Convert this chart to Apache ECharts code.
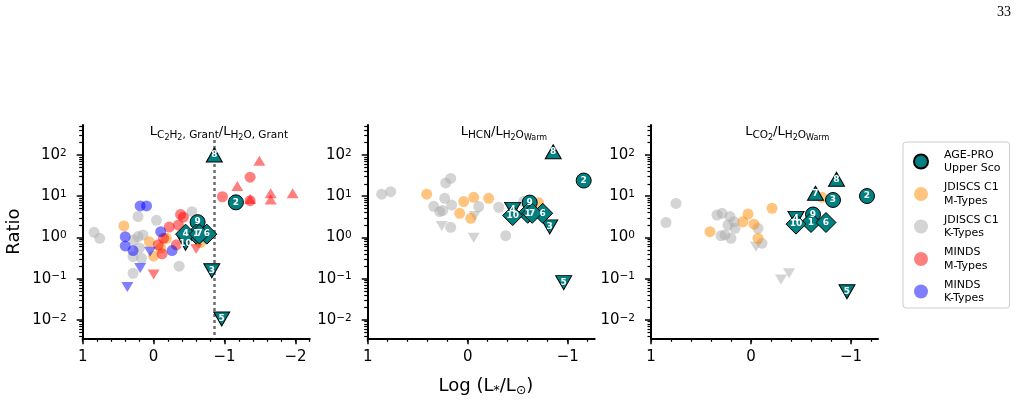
<!DOCTYPE html>
<html>
<head>
<meta charset="utf-8">
<script src="https://cdn.jsdelivr.net/npm/echarts@6/dist/echarts.min.js"></script>
<style>
  html, body { margin: 0; padding: 0; background: #fff; }
  #chart { width: 1026px; height: 404px; }
</style>
</head>
<body>
<div id="chart"></div>
<script>
// flags: det = detection, ul = upper limit, ll = lower limit, tent = tentative
const ageproIds = ['1', '2', '3', '4', '5', '6', '7', '8', '9', '10'];
const ageproLogL = [-0.60, -1.16, -0.82, -0.45, -0.96, -0.75, -0.645, -0.855, -0.62, -0.45];

const c2h2Ratio = [1.2, 7.1, 0.155, 1.2, 0.0105, 1.2, 1.2, 100, 2.35, 0.72];
const c2h2Flag = ['tent', 'det', 'ul', 'tent', 'ul', 'tent', 'tent', 'll', 'det', 'ul'];
const hcnRatio = [3.85, 24, 1.8, 4.8, 0.08, 3.85, 3.85, 120, 7.0, 3.4];
const hcnFlag = ['tent', 'det', 'ul', 'ul', 'ul', 'tent', 'tent', 'll', 'det', 'tent'];
const co2Ratio = [2.3, 10.1, 8.1, 2.9, 0.048, 2.3, 11.8, 25.7, 3.6, 2.1];
const co2Flag = ['tent', 'det', 'det', 'ul', 'ul', 'tent', 'll', 'll', 'det', 'tent'];

// comparison samples: [log L*, ratio, flag]
const c2h2JdiscsK = [[0.84, 1.33, 'det'], [0.76, 0.95, 'det'], [0.22, 3.2, 'det'], [0.22, 1.05, 'det'],
  [0.15, 1.15, 'det'], [0.28, 0.87, 'det'], [0.20, 0.55, 'det'], [0.29, 0.34, 'det'], [0.17, 0.31, 'det'],
  [0.29, 0.135, 'det'], [-0.04, 2.6, 'det'], [-0.54, 4.2, 'det'], [-0.36, 0.2, 'det']];
const c2h2JdiscsM = [[0.42, 1.9, 'det'], [0.06, 0.78, 'det'], [0.0, 0.35, 'det'], [-0.18, 0.95, 'det'],
  [-0.10, 0.55, 'det'], [-0.66, 0.75, 'det']];
const c2h2MindsM = [[-0.42, 3.1, 'det'], [-0.38, 3.6, 'det'], [-0.22, 1.78, 'det'], [-0.14, 0.95, 'det'],
  [-0.065, 0.66, 'det'], [-0.12, 0.40, 'det'], [-0.35, 2.0, 'det'], [-0.32, 0.66, 'det'], [-0.97, 9.7, 'det'],
  [-1.36, 29, 'det'], [-1.36, 7.8, 'det'], [-0.6, 0.52, 'ul'], [0.0, 0.126, 'ul'], [-1.49, 73, 'll'],
  [-1.18, 17.7, 'll'], [-1.36, 8.5, 'll'], [-1.65, 11.8, 'll'], [-1.65, 8.3, 'll'], [-1.96, 11.8, 'll']];
const c2h2MindsK = [[0.19, 5.8, 'det'], [0.10, 5.8, 'det'], [0.40, 1.04, 'det'], [0.40, 0.62, 'det'],
  [0.29, 0.48, 'det'], [-0.10, 1.38, 'det'], [-0.26, 0.48, 'det'], [0.19, 0.18, 'ul'], [0.37, 0.063, 'ul'],
  [0.05, 0.45, 'ul']];

const hcnJdiscsK = [[0.86, 11.2, 'det'], [0.77, 12.9, 'det'], [0.34, 5.7, 'det'], [0.28, 4.2, 'det'],
  [0.23, 8.9, 'det'], [0.22, 21, 'det'], [0.17, 27, 'det'], [0.16, 6.1, 'det'], [0.25, 4.5, 'det'],
  [0.17, 1.76, 'det'], [-0.11, 5.6, 'det'], [-0.31, 5.4, 'det'], [-0.38, 1.1, 'det'], [-0.56, 7.4, 'det'],
  [0.26, 1.9, 'ul'], [-0.06, 0.98, 'ul'], [-0.07, 3.3, 'ul']];
const hcnJdiscsM = [[0.41, 11.2, 'det'], [0.08, 3.85, 'det'], [0.04, 7.4, 'det'], [-0.03, 2.9, 'det'],
  [-0.06, 9.4, 'det'], [-0.21, 8.9, 'det'], [-0.71, 6.9, 'det']];

const co2JdiscsK = [[0.85, 2.3, 'det'], [0.75, 6.7, 'det'], [0.34, 3.5, 'det'], [0.29, 3.85, 'det'],
  [0.21, 3.2, 'det'], [0.17, 2.4, 'det'], [0.23, 2.0, 'det'], [0.16, 1.66, 'det'], [0.26, 1.15, 'det'],
  [0.20, 0.95, 'det'], [0.30, 1.1, 'det'], [-0.07, 1.66, 'det'], [-0.11, 0.72, 'det'],
  [-0.05, 0.59, 'ul'], [-0.30, 0.095, 'ul'], [-0.38, 0.135, 'ul']];
const co2JdiscsM = [[0.41, 1.38, 'det'], [0.08, 2.4, 'det'], [0.03, 3.7, 'det'], [-0.03, 2.1, 'det'],
  [-0.07, 0.95, 'det'], [-0.21, 5.1, 'det'], [-0.71, 9.4, 'det']];

const xTicksWide = [1, 0, -1, -2];
const xTicksNarrow = [1, 0, -1];
const yTicks = [0.01, 0.1, 1, 10, 100];
const dottedLineLogL = -0.85;

const FONT = 'DejaVu Sans';
const AGE = 'AGE-PRO\nUpper Sco';
const JM = 'JDISCS C1\nM-Types';
const JK = 'JDISCS C1\nK-Types';
const MM = 'MINDS\nM-Types';
const MK = 'MINDS\nK-Types';
const colors = {};
colors[AGE] = '#008080';
colors[JM] = '#ff8c00';
colors[JK] = '#a9a9a9';
colors[MM] = '#ff0000';
colors[MK] = '#0000ff';

const yMin = 0.00356, yMax = 535;
const gridLeft = [82.7, 367.7, 651];
const xMins = [-2.2, -1.27, -1.27];

const yMinor = [];
for (let e = -3; e <= 2; e++) {
  for (let m = 2; m <= 9; m++) {
    const v = m * Math.pow(10, e);
    if (v > yMin && v < yMax) yMinor.push(v);
  }
}
function xMinor(min) {
  const out = [];
  for (let k = 10; k >= Math.round(min * 10); k -= 2) out.push(k / 10);
  return out;
}

function symbolFor(flag, big) {
  if (flag === 'det') return { symbol: 'circle', symbolSize: big ? 15 : 11, symbolRotate: 0 };
  if (flag === 'tent') return { symbol: 'diamond', symbolSize: 20, symbolRotate: 0 };
  return {
    symbol: 'triangle',
    symbolSize: big ? [16, 14] : [12, 10],
    symbolRotate: flag === 'ul' ? 180 : 0
  };
}

const order = { det: 0, ll: 1, ul: 2, tent: 3 };

function ageproSeries(i, ratio, flag) {
  const items = ageproIds.map((id, k) => Object.assign({
    name: id, value: [ageproLogL[k], ratio[k]], _o: order[flag[k]] * 100 + k
  }, symbolFor(flag[k], true)));
  items.sort((a, b) => a._o - b._o);
  items.forEach(d => delete d._o);
  return {
    type: 'scatter', name: AGE, xAxisIndex: i * 2, yAxisIndex: i * 2, z: 5,
    itemStyle: { color: colors[AGE], borderColor: '#000', borderWidth: 1, opacity: 1 },
    label: {
      show: true, position: 'inside', formatter: '{b}', color: '#fff',
      fontSize: 9, fontWeight: 'bold', fontFamily: FONT
    },
    emphasis: { disabled: true },
    data: items
  };
}

function sampleSeries(i, name, pts) {
  return {
    type: 'scatter', name: name, xAxisIndex: i * 2, yAxisIndex: i * 2, z: 2,
    itemStyle: { color: colors[name], opacity: 0.5 },
    emphasis: { disabled: true },
    data: pts.map(p => Object.assign({ value: [p[0], p[1]] }, symbolFor(p[2], false)))
  };
}

const grids = [], xAxes = [], yAxes = [];
for (let i = 0; i < 3; i++) {
  grids.push({ left: gridLeft[i], top: 125, width: 227, height: 213.3, outerBoundsMode: 'none' });
  const ticks = i === 0 ? xTicksWide : xTicksNarrow;
  xAxes.push({
    type: 'value', gridIndex: i, inverse: true, min: xMins[i], max: 1, position: 'bottom',
    axisLine: { onZero: false, lineStyle: { color: '#000', width: 2 } },
    axisTick: { customValues: ticks, length: 6, lineStyle: { color: '#000', width: 1.5 } },
    axisLabel: {
      customValues: ticks, margin: 11, color: '#000', fontSize: 15, fontFamily: FONT,
      formatter: v => (v < 0 ? '\u2212' + Math.abs(v) : String(v))
    },
    splitLine: { show: false }
  });
  xAxes.push({
    type: 'value', gridIndex: i, inverse: true, min: xMins[i], max: 1, position: 'bottom',
    axisLine: { show: false, onZero: false },
    axisTick: { customValues: xMinor(xMins[i]), length: 3.5, lineStyle: { color: '#000', width: 1.2 } },
    axisLabel: { show: false },
    splitLine: { show: false }
  });
  yAxes.push({
    type: 'log', logBase: 10, gridIndex: i, min: yMin, max: yMax, position: 'left',
    axisLine: { show: true, onZero: false, lineStyle: { color: '#000', width: 2 } },
    axisTick: { show: true, customValues: yTicks, length: 6, lineStyle: { color: '#000', width: 1.5 } },
    axisLabel: {
      customValues: yTicks, margin: 16, color: '#000',
      formatter: v => {
        const e = Math.round(Math.log10(v));
        return '{b|10}{p|' + (e < 0 ? '\u2212' + (-e) : e) + '}';
      },
      rich: {
        b: { fontSize: 15, fontFamily: FONT, color: '#000', verticalAlign: 'top' },
        p: { fontSize: 10.5, fontFamily: FONT, color: '#000', verticalAlign: 'top' }
      }
    },
    splitLine: { show: false }
  });
  yAxes.push({
    type: 'log', logBase: 10, gridIndex: i, min: yMin, max: yMax, position: 'left',
    axisLine: { show: false, onZero: false },
    axisTick: { show: true, customValues: yMinor, length: 3.5, lineStyle: { color: '#000', width: 1.2 } },
    axisLabel: { show: false },
    splitLine: { show: false }
  });
}

const series = [
  {
    type: 'scatter', name: 'limit', xAxisIndex: 0, yAxisIndex: 0, z: 1, data: [],
    markLine: {
      silent: true, symbol: ['none', 'none'], label: { show: false },
      lineStyle: { color: '#6e6e6e', width: 2.5, type: [3, 3] },
      data: [[{ coord: [dottedLineLogL, 230] }, { coord: [dottedLineLogL, yMin] }]]
    }
  },
  sampleSeries(0, JK, c2h2JdiscsK),
  sampleSeries(0, JM, c2h2JdiscsM),
  sampleSeries(0, MM, c2h2MindsM),
  sampleSeries(0, MK, c2h2MindsK),
  ageproSeries(0, c2h2Ratio, c2h2Flag),
  sampleSeries(1, JK, hcnJdiscsK),
  sampleSeries(1, JM, hcnJdiscsM),
  ageproSeries(1, hcnRatio, hcnFlag),
  sampleSeries(2, JK, co2JdiscsK),
  sampleSeries(2, JM, co2JdiscsM),
  ageproSeries(2, co2Ratio, co2Flag)
];

// subscripted panel titles (top aligned tokens, pushed down by padding)
const titleRich = {
  m: { fontSize: 13, fontFamily: FONT, color: '#000', verticalAlign: 'top', padding: [0.5, 0, 0, 0] },
  s: { fontSize: 10.5, fontFamily: FONT, color: '#000', verticalAlign: 'top', padding: [5.25, 0, 0, 0] },
  ss: { fontSize: 8, fontFamily: FONT, color: '#000', verticalAlign: 'top', padding: [9.5, 0, 0, 0] }
};
const titles = [
  '{m|L}{s|C}{ss|2}{s|H}{ss|2}{s|, Grant}{m|/L}{s|H}{ss|2}{s|O, Grant}',
  '{m|L}{s|HCN}{m|/L}{s|H}{ss|2}{s|O}{ss|Warm}',
  '{m|L}{s|CO}{ss|2}{m|/L}{s|H}{ss|2}{s|O}{ss|Warm}'
];
const graphics = titles.map((t, i) => ({
  type: 'text', x: gridLeft[i] + 0.6 * 227, y: 124.6,
  style: { text: t, rich: titleRich, align: 'center', verticalAlign: 'top' }
}));
graphics.push({
  type: 'text', x: 14, y: 231.6, rotation: Math.PI / 2,
  style: { text: 'Ratio', fontSize: 18, fontFamily: FONT, fill: '#000', align: 'center', verticalAlign: 'middle' }
});
graphics.push({
  type: 'text', x: 486, y: 377.6,
  style: {
    text: '{m|Log (L}{s|*}{m|/L}{s|\u2299}{m|)}', align: 'center', verticalAlign: 'top',
    rich: {
      m: { fontSize: 18, fontFamily: FONT, color: '#000', verticalAlign: 'top' },
      s: { fontSize: 12.5, fontFamily: FONT, color: '#000', verticalAlign: 'top', padding: [6.9, 0, 0, 0] }
    }
  }
});
graphics.push({
  type: 'text', x: 1004, y: 12,
  style: { text: '33', fontSize: 14, fontFamily: 'Liberation Serif', fill: '#000', align: 'center', verticalAlign: 'middle' }
});

const chart = echarts.init(document.getElementById('chart'));
const option = {
  animation: false,
  backgroundColor: '#fff',
  grid: grids,
  xAxis: xAxes,
  yAxis: yAxes,
  legend: {
    data: [AGE, JM, JK, MM, MK],
    orient: 'vertical', left: 903, top: 142,
    icon: 'circle', itemWidth: 14, itemHeight: 14, itemGap: 5.5,
    padding: [6, 9, 3, 10],
    borderColor: '#cccccc', borderWidth: 1, borderRadius: 3,
    selectedMode: false,
    textStyle: { fontFamily: FONT, fontSize: 11, color: '#000', lineHeight: 13.5, padding: [0, 0, 0, 11] }
  },
  graphic: graphics,
  series: series
};
option && chart.setOption(option);
</script>
</body>
</html>
